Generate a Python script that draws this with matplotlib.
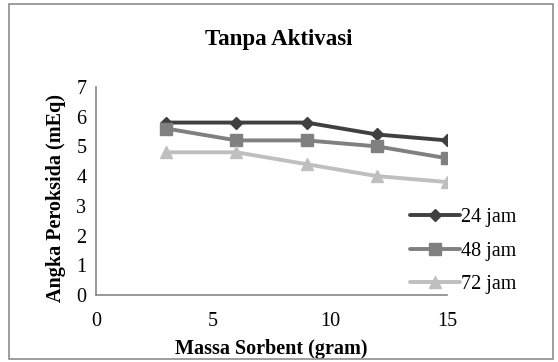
import matplotlib
matplotlib.use("Agg")
import matplotlib.pyplot as plt
from matplotlib.patches import Rectangle

plt.rcParams["font.family"] = ["Liberation Serif", "DejaVu Serif"]

# data
massa = [3, 6, 9, 12, 15]
jam_24 = [5.8, 5.8, 5.8, 5.4, 5.2]
jam_48 = [5.6, 5.2, 5.2, 5.0, 4.6]
jam_72 = [4.8, 4.8, 4.4, 4.0, 3.8]
labels = ["24 jam", "48 jam", "72 jam"]
y_ticks = [0, 1, 2, 3, 4, 5, 6, 7]
x_ticks = [0, 5, 10, 15]

fig = plt.figure(figsize=(5.58, 3.62), dpi=100)
ax = fig.add_axes([0.172, 0.185, 0.629, 0.575])

series = [
    (jam_24, "#404040", "D", 6.5),
    (jam_48, "#808080", "s", 8),
    (jam_72, "#bfbfbf", "^", 8.5),
]
for (vals, color, marker, ms), lab in zip(series, labels):
    ax.plot(massa, vals, color=color, marker=marker, markersize=ms,
            linewidth=2.8, label=lab, solid_capstyle="round")

ax.set_xlim(0, 15)
ax.set_ylim(0, 7)
ax.set_xticks(x_ticks)
ax.set_yticks(y_ticks)
ax.tick_params(length=0, labelsize=14.5, pad=7)
ax.tick_params(axis="x", pad=12)
for side in ["top", "right"]:
    ax.spines[side].set_visible(False)
for side in ["left", "bottom"]:
    ax.spines[side].set_color("#868686")
    ax.spines[side].set_linewidth(1.2)

ax.set_xlabel("Massa Sorbent (gram)", fontsize=14.5, fontweight="bold", labelpad=6)
ax.set_ylabel("Angka Peroksida (mEq)", fontsize=14.5, fontweight="bold")
ax.yaxis.set_label_coords(-0.086, 0.465)
fig.text(0.5, 0.89, "Tanpa Aktivasi", ha="center", va="center",
         fontsize=16.5, fontweight="bold")

ax.legend(loc="center left", bbox_to_anchor=(0.865, 0.21), frameon=False,
          fontsize=14.5, handlelength=2.5, handletextpad=0.05,
          labelspacing=0.72, borderpad=0)

fig.patches.append(Rectangle((0.016, 0.008), 0.975, 0.982, transform=fig.transFigure,
                             fill=False, edgecolor="#8c8c8c", linewidth=1.2))

fig.savefig("out.png", dpi=100)
